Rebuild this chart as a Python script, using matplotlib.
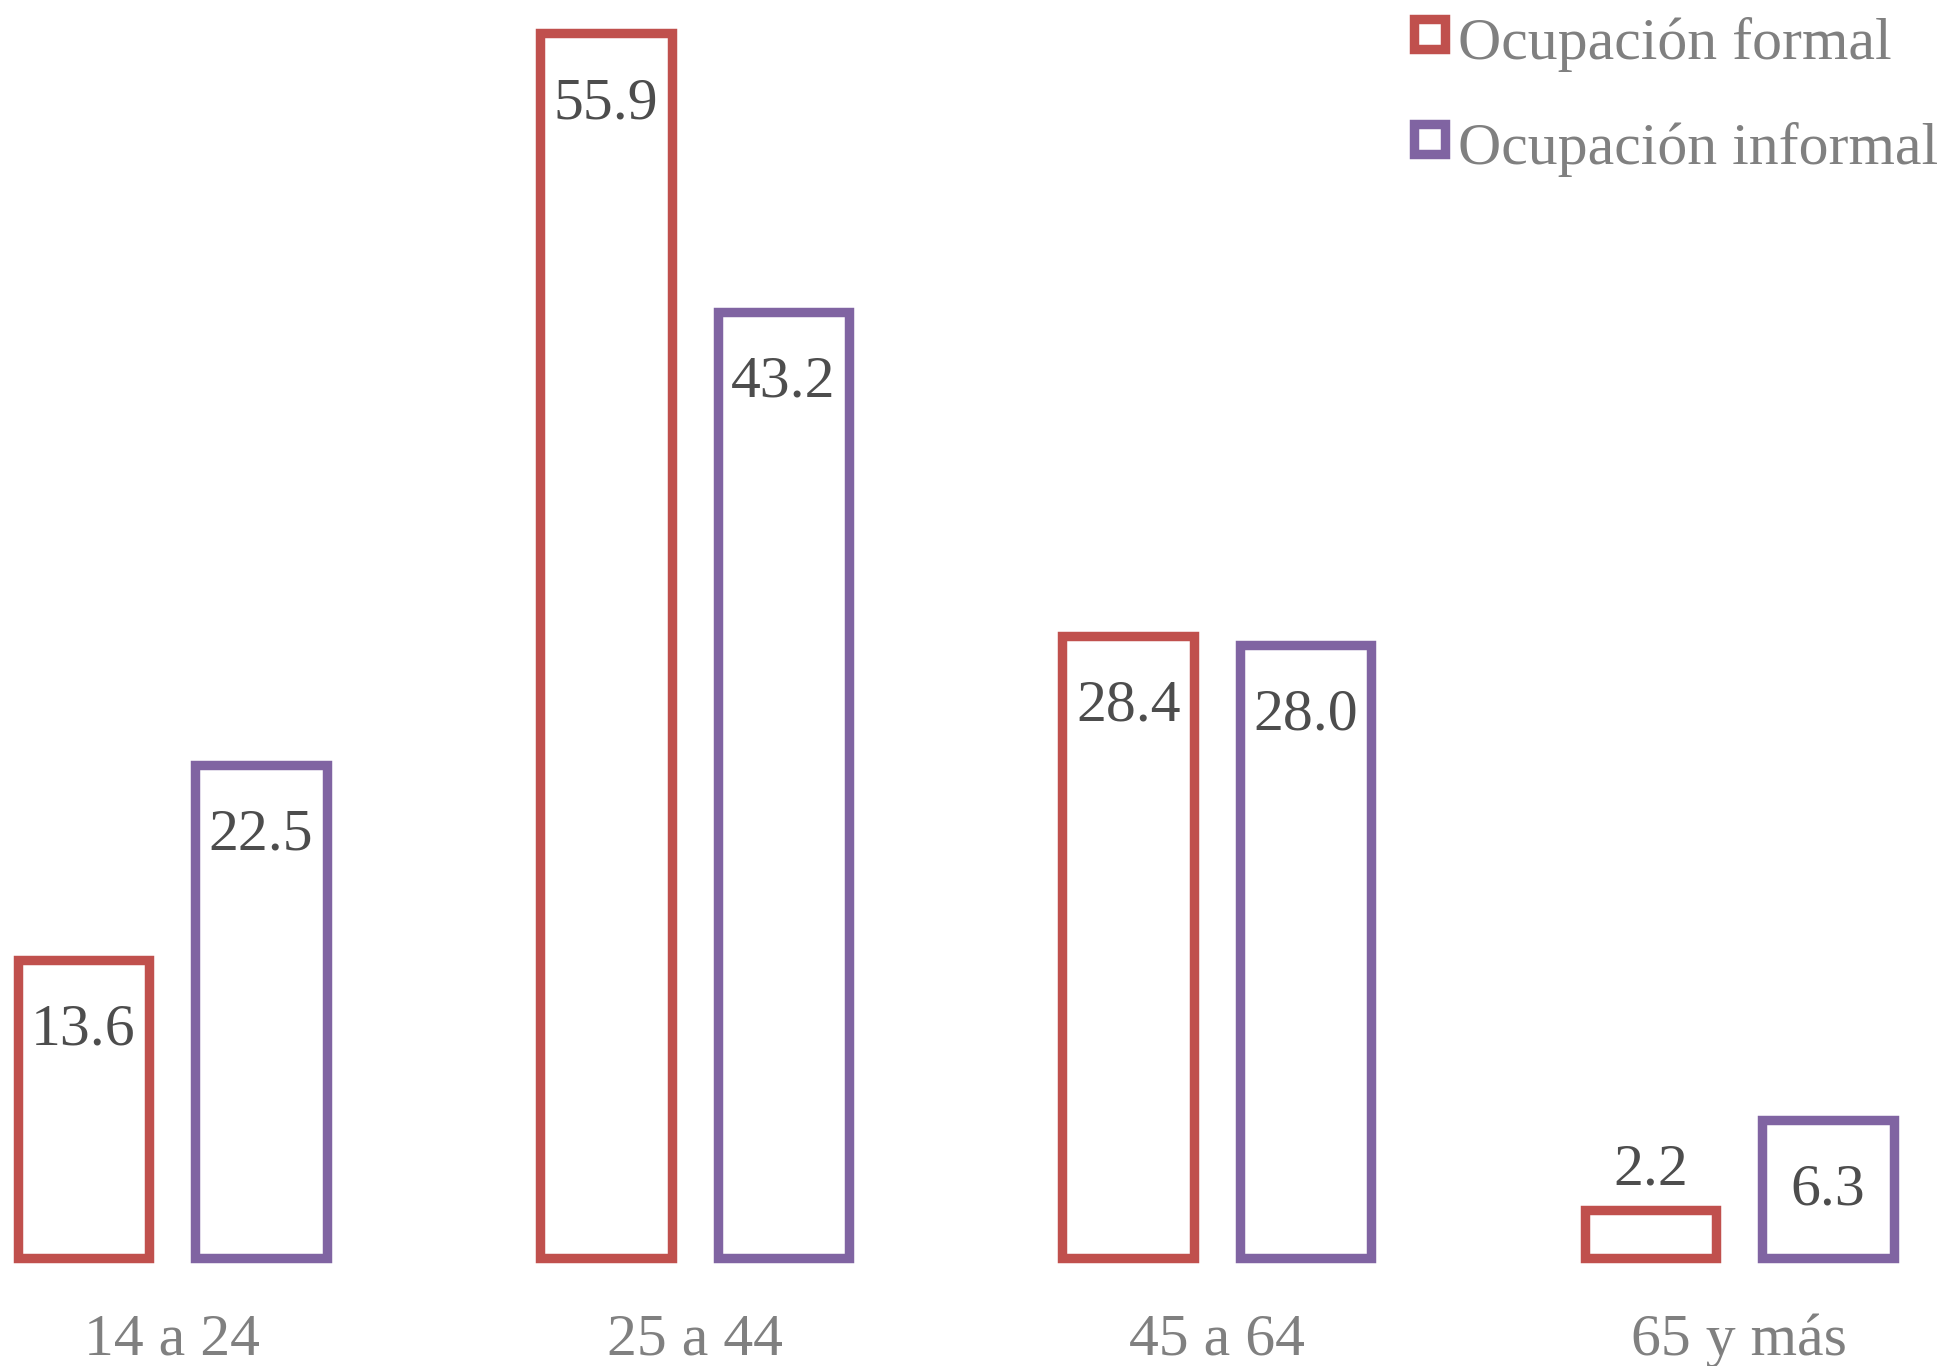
import matplotlib.pyplot as plt
from matplotlib.patches import Rectangle
import numpy as np

categorias = ['14 a 24', '25 a 44', '45 a 64', '65 y más']
formal = [13.6, 55.9, 28.4, 2.2]
informal = [22.5, 43.2, 28.0, 6.3]
series = ['Ocupación formal', 'Ocupación informal']

rojo = '#C0504D'
morado = '#8064A2'
plt.rcParams['font.family'] = ['Liberation Serif', 'DejaVu Serif']

W, H = 1950, 1366
fig = plt.figure(figsize=(W / 100, H / 100), dpi=100)
ax = fig.add_axes([0, 108 / H, 1, 1 - 108 / H])

x = np.arange(len(categorias))
off = 0.1699
ancho = 0.2517
lw = 6.8

for vals, color, d in [(formal, rojo, -off), (informal, morado, off)]:
    bars = ax.bar(x + d, vals, ancho, facecolor='white', edgecolor=color,
                  linewidth=lw, clip_on=False)
    for b, v in zip(bars, vals):
        cx = b.get_x() + b.get_width() / 2
        # etiqueta fuera si la barra es muy baja
        dy = 18 if v < 4 else -61
        ax.annotate(f'{v:.1f}', (cx, v), xytext=(0, dy), textcoords='offset points',
                    ha='center', va='baseline', fontsize=43, color='#4d4d4d')

ax.set_xlim(-0.3295, 3.4033)
ax.set_ylim(0, 57.42)
ax.set_xticks(x)
ax.set_xticklabels(categorias, fontsize=43, color='#808080')
ax.tick_params(axis='x', length=0, pad=40)
ax.set_yticks([])
for s in ax.spines.values():
    s.set_visible(False)

# leyenda manual
for i, (nombre, color) in enumerate(zip(series, [rojo, morado])):
    top = 18.7 + i * 105
    fig.add_artist(Rectangle((1413.7 / W, 1 - (top + 30.6) / H), 31 / W, 30.6 / H,
                             facecolor='white', edgecolor=color, linewidth=lw,
                             transform=fig.transFigure))
    fig.text(1458 / W, 1 - (59 + i * 105) / H, nombre, fontsize=43, color='#808080',
             va='baseline', ha='left')

fig.savefig('out.png', dpi=100)
